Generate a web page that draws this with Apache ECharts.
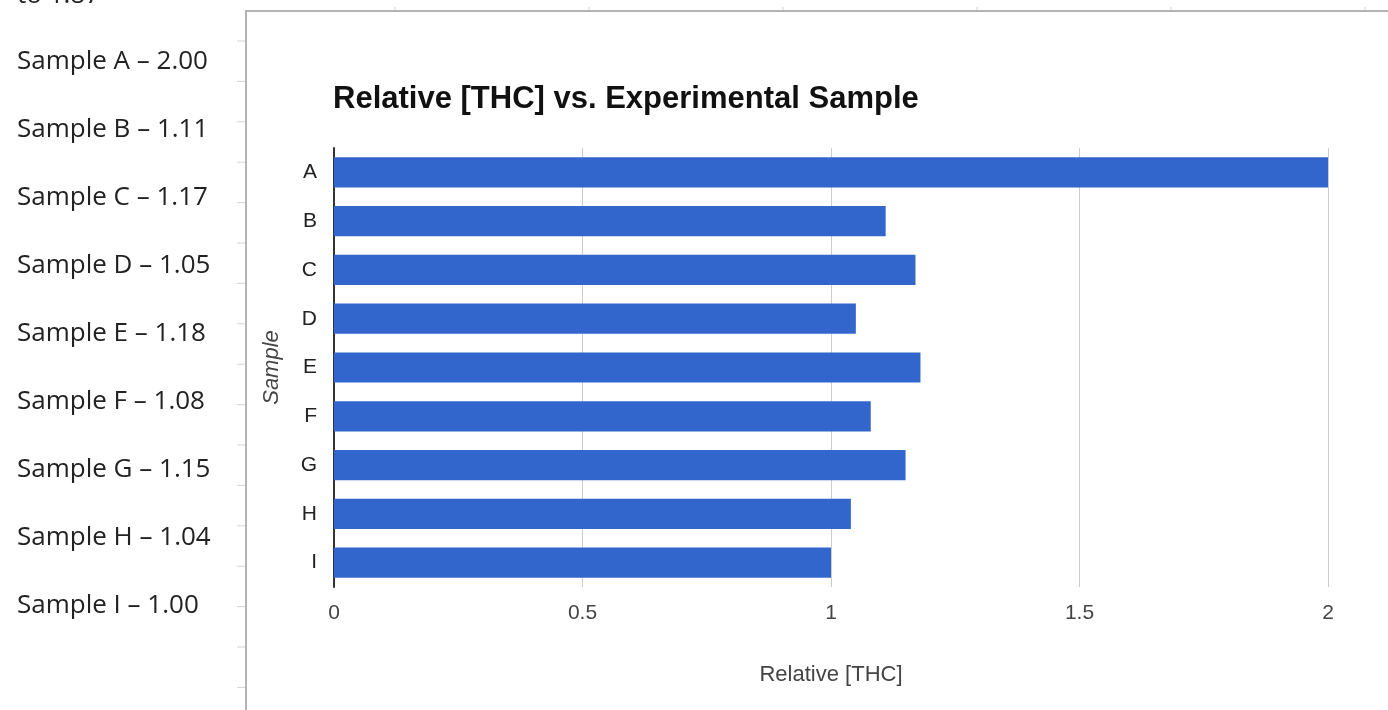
<!DOCTYPE html>
<html>
<head>
<meta charset="utf-8">
<script src="https://cdn.jsdelivr.net/npm/echarts@6/dist/echarts.min.js"></script>
<style>
  html, body { margin: 0; padding: 0; background: #fff; }
  #main { width: 1388px; height: 710px; }
</style>
</head>
<body>
<div id="main"></div>
<script>
var samples = ['A', 'B', 'C', 'D', 'E', 'F', 'G', 'H', 'I'];
var thcValues = [2.00, 1.11, 1.17, 1.05, 1.18, 1.08, 1.15, 1.04, 1.00];
var sideNotes = ['Sample A \u2013 2.00', 'Sample B \u2013 1.11', 'Sample C \u2013 1.17',
                 'Sample D \u2013 1.05', 'Sample E \u2013 1.18', 'Sample F \u2013 1.08',
                 'Sample G \u2013 1.15', 'Sample H \u2013 1.04', 'Sample I \u2013 1.00'];

var myChart = echarts.init(document.getElementById('main'));

// document decorations: side notes, ruler ticks, chart frame
var deco = [];
sideNotes.forEach(function (t, i) {
	deco.push({
		type: 'text', left: 17, top: 49 + i * 68,
		style: { text: t, font: '26px "Open Sans", sans-serif', fill: '#222' }
	});
});
deco.push({
	type: 'text', left: 17, top: -17,
	style: { text: 'to 1.87', font: '26px "Open Sans", sans-serif', fill: '#222' }
});
for (var k = 0; k < 17; k++) {
	deco.push({
		type: 'line', shape: { x1: 237, y1: 41 + k * 40.4, x2: 245, y2: 41 + k * 40.4 },
		style: { stroke: '#d4d4d4', lineWidth: 1 }
	});
}
for (var j = 0; j < 6; j++) {
	deco.push({
		type: 'line', shape: { x1: 395 + j * 194, y1: 7, x2: 395 + j * 194, y2: 10 },
		style: { stroke: '#d4d4d4', lineWidth: 1 }
	});
}
deco.push({
	type: 'polyline', shape: { points: [[246, 720], [246, 11], [1400, 11]] },
	style: { stroke: '#b4b4b4', lineWidth: 2, fill: null }
});

myChart.setOption({
	backgroundColor: '#fff',
	animation: false,
	title: {
		text: 'Relative [THC] vs. Experimental Sample',
		left: 328, top: 79,
		textStyle: { fontFamily: 'Arial', fontSize: 31, fontWeight: 'bold', color: '#111' }
	},
	graphic: deco,
	grid: { left: 334, right: 60, top: 148, bottom: 123 },
	xAxis: {
		type: 'value', min: 0, max: 2, interval: 0.5,
		name: 'Relative [THC]', nameLocation: 'middle', nameGap: 77,
		nameTextStyle: { fontFamily: 'Arial', fontSize: 22, color: '#444' },
		axisLine: { show: false },
		axisTick: { show: false },
		axisLabel: { margin: 16, fontFamily: 'Arial', fontSize: 21, color: '#444' },
		splitLine: { lineStyle: { color: '#cccccc', width: 1 } }
	},
	yAxis: {
		type: 'category', data: samples, inverse: true,
		name: 'Sample', nameLocation: 'middle', nameGap: 51, nameRotate: 90,
		nameTextStyle: { fontFamily: 'Arial', fontSize: 22, fontStyle: 'italic', color: '#444' },
		axisLine: { lineStyle: { color: '#333', width: 2 } },
		axisTick: { show: false },
		axisLabel: { margin: 17, fontFamily: 'Arial', fontSize: 21, color: '#222' }
	},
	series: [{
		type: 'bar',
		data: thcValues,
		barCategoryGap: '38%',
		itemStyle: { color: '#3366cc' }
	}]
});
</script>
</body>
</html>
